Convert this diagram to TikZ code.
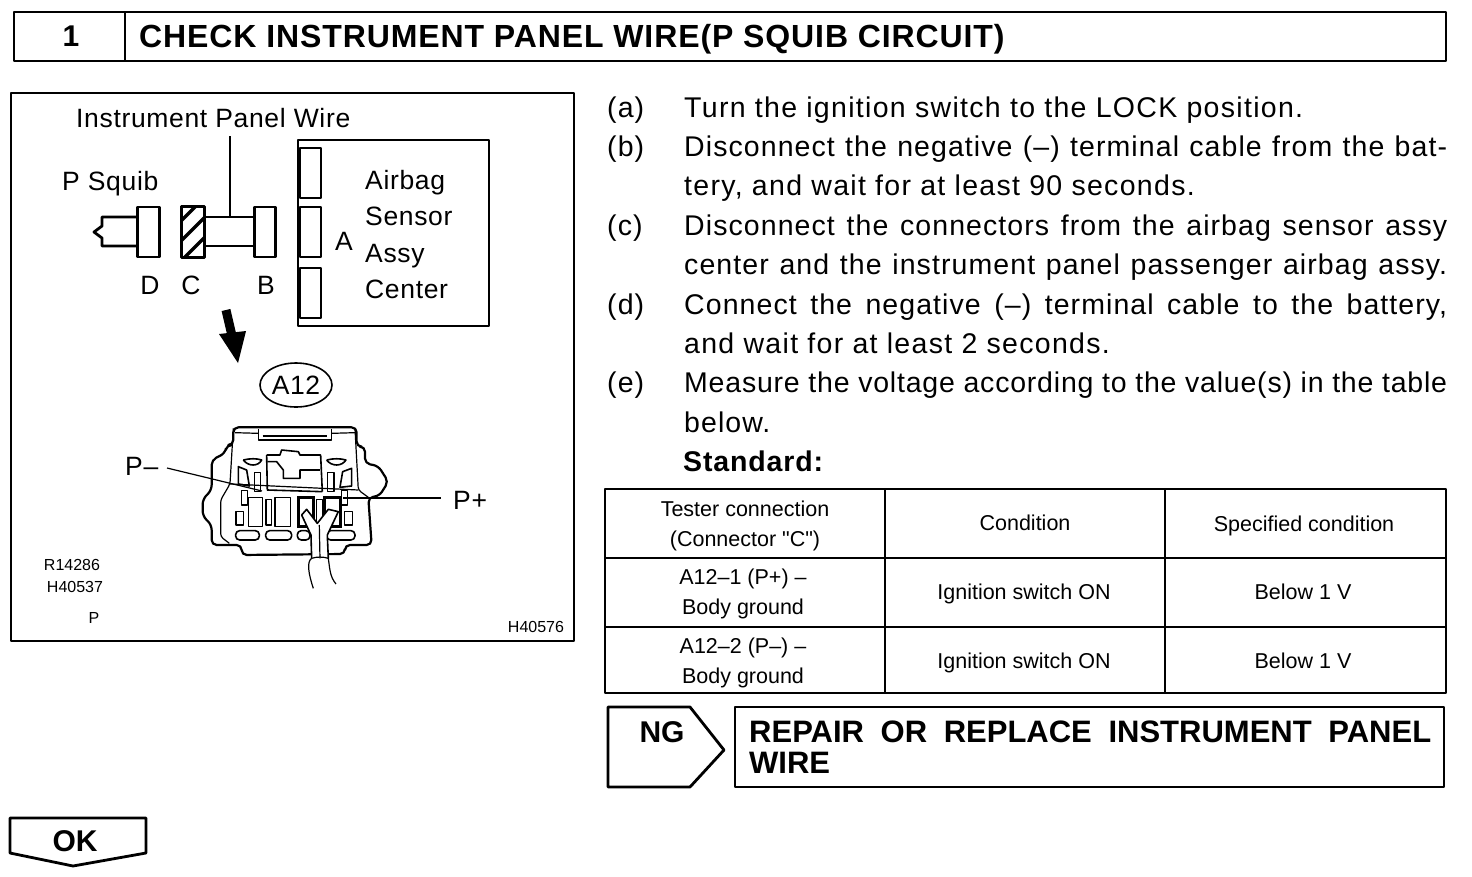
\documentclass[tikz,border=0pt]{standalone}
\usepackage{fontspec}
\setmainfont{Liberation Sans}
\newfontfamily\plainfont{Liberation Sans}
\newcommand{\jline}[2]{\makebox[#1][s]{#2}}
\tikzset{
  body/.style={anchor=base west,inner sep=0pt,font=\fontsize{28.5}{34}\selectfont\addfontfeatures{LetterSpace=4.6}},
  bodyfit/.style={anchor=base west,inner sep=0pt,font=\fontsize{28.5}{34}\selectfont\addfontfeatures{LetterSpace=#1}},
  head/.style={anchor=base west,inner sep=0pt,font=\bfseries\fontsize{31}{36}\selectfont},
  lab/.style={inner sep=0pt,font=\fontsize{26.5}{32}\selectfont\addfontfeatures{LetterSpace=2.5}},
  cell/.style={inner sep=0pt,align=center,font=\fontsize{21.5}{30}\selectfont},
  tiny/.style={inner sep=0pt,font=\fontsize{16}{18}\selectfont},
  heavy/.style={line width=2.8pt,line join=round},
  med/.style={line width=2.2pt,line join=round},
  thinpart/.style={line width=1.6pt,line join=round},
  fine/.style={line width=1.2pt,line join=round}
}
\begin{document}
\begin{tikzpicture}[x=1pt,y=-1pt]
\useasboundingbox (0,0) rectangle (1472,876);

% title bar
\draw[heavy] (14,12) rectangle (1446,61);
\draw[heavy] (125,12) -- (125,61);
\node[inner sep=0pt,font=\bfseries\fontsize{30}{36}\selectfont] (stepno) at (71,36) {1};
\node[head,font=\bfseries\fontsize{32}{36}\selectfont\addfontfeatures{LetterSpace=2.8}] (title) at (139,47) {CHECK INSTRUMENT PANEL WIRE(P SQUIB CIRCUIT)};

% left panel
\draw[heavy] (11,93) rectangle (574,641);
\node[lab,anchor=base west] (ipw) at (76,127) {Instrument Panel Wire};
\node[lab,anchor=base west] (squib) at (62,190) {P Squib};

\draw[heavy] (489,140) -- (298,140) -- (298,326) -- (489,326) -- cycle;
\draw[heavy] (300,148) rectangle (321,198);
\draw[heavy] (300,207) rectangle (321,257);
\draw[heavy] (300,268) rectangle (321,318);
\node[lab,anchor=base west] (airbag) at (365,189) {Airbag};
\node[lab,anchor=base west] (sensor) at (365,225) {Sensor};
\node[lab,anchor=base west] (assy) at (365,262) {Assy};
\node[lab,anchor=base west] (center) at (365,298) {Center};
\node[lab] (lA) at (344,241) {A};
\node[lab] (lD) at (150,285) {D};
\node[lab] (lC) at (191,285) {C};
\node[lab] (lB) at (266,285) {B};

\node[draw,heavy,minimum width=22pt,minimum height=50pt,inner sep=0pt] (D) at (148.5,232) {};
\node[draw,heavy,minimum width=21pt,minimum height=50pt,inner sep=0pt] (B) at (265,232) {};
\node[minimum width=22pt,minimum height=50pt,inner sep=0pt] (C) at (193,232) {};
\begin{scope}
\clip (C.south west) rectangle (C.north east);
\foreach \i in {0,20,...,100} {
  \draw[line width=3.5pt] (120+\i,262) -- (180+\i,202);
}
\end{scope}
\draw[heavy] (C.south west) rectangle (C.north east);
\draw[heavy] (C.east |- 0,217) -- (B.west |- 0,217);
\draw[heavy] (C.east |- 0,246) -- (B.west |- 0,246);
\draw[heavy] (D.west |- 0,217) -- (102,217) -- (102,226) -- (94,232) -- (102,238) -- (102,246) -- (D.west |- 0,246);
\coordinate (wiretop) at (230,217);
\draw[fine] (230,136) -- (wiretop);

% big arrow
\draw[line width=9pt] (226,310) -- (233,340);
\fill (219,334) -- (246,331) -- (238,363) -- cycle;

\draw[thinpart] (296,385) ellipse (36 and 22);
\node[lab] (a12) at (296,385) {A12};

% connector
\begin{scope}[shift={(110,410)},x=0.3333pt,y=-0.3333pt]
\draw[med,rounded corners=5pt] (370,105) -- (370,52) -- (740,52) -- (740,110) -- (765,110) -- (765,160) -- (805,168) -- (835,215) -- (808,258) -- (775,262) -- (785,405) -- (705,405) -- (705,432) -- (395,435) -- (395,405) -- (305,405) -- (305,345) -- (278,318) -- (278,268) -- (305,240) -- (305,150) -- (345,130) -- (350,105) -- cycle;
\draw[fine,rounded corners=3pt] (358,400) -- (332,380) -- (332,270) -- (360,222) -- (370,55);
\draw[fine,rounded corners=3pt] (735,55) -- (745,240) -- (775,262);
\draw[fine] (360,222) -- (745,240);
\draw[thinpart] (445,58) -- (445,90) -- (665,90) -- (665,58);
\draw[fine] (375,68) -- (445,70) (665,70) -- (735,68);
\draw[fine] (458,78) -- (650,78);
\draw[thinpart] (470,135) -- (510,135) -- (515,120) -- (565,125) -- (570,135) -- (632,135) -- (637,245);
\draw[thinpart] (470,135) -- (472,240) -- (637,245);
\draw[thinpart] (472,155) -- (500,155) -- (520,180) -- (520,205) -- (570,205) -- (570,180) -- (600,180) -- (630,180);
\draw[thinpart] (400,150) .. controls (420,145) and (440,145) .. (455,150) .. controls (445,170) and (415,170) .. (400,150);
\draw[thinpart] (650,150) .. controls (670,145) and (690,145) .. (708,150) .. controls (695,170) and (665,170) .. (650,150);
\draw[thinpart] (385,170) -- (410,180) -- (418,228) -- (385,222) -- cycle;
\draw[thinpart] (725,175) -- (698,185) -- (690,232) -- (725,228) -- cycle;
\draw[thinpart] (433,188) rectangle (452,245);
\draw[thinpart] (652,188) rectangle (672,245);
\draw[thinpart] (395,242) rectangle (412,285);
\draw[thinpart] (695,242) rectangle (712,285);
\draw[thinpart] (415,262) rectangle (458,350);
\draw[thinpart] (468,268) rectangle (485,345);
\draw[thinpart] (495,262) rectangle (542,350);
\draw[line width=3pt] (565,262) rectangle (612,350);
\draw[thinpart] (620,268) rectangle (637,345);
\draw[line width=3pt] (645,262) rectangle (692,350);
\draw[thinpart] (378,305) rectangle (400,345);
\draw[thinpart] (704,305) rectangle (728,345);
\draw[thinpart,rounded corners=4pt] (377,362) rectangle (448,390);
\draw[thinpart,rounded corners=4pt] (467,362) rectangle (545,390);
\draw[thinpart,rounded corners=4pt] (562,362) rectangle (600,390);
\draw[thinpart,rounded corners=4pt] (650,362) rectangle (735,390);
% wires
\fill[white] (575,315) -- (590,298) -- (622,340) -- (655,298) -- (685,305) -- (652,375) -- (655,445) -- (605,445) -- (603,375) -- cycle;
\draw[thinpart] (575,315) -- (590,298) -- (622,340) -- (655,298) -- (685,305) -- (652,375) -- (655,445);
\draw[thinpart] (575,315) -- (603,375) -- (605,445);
\draw[fine] (628,345) -- (630,445);
\draw[fine] (605,445) .. controls (590,455) and (595,490) .. (610,535);
\draw[fine] (605,445) .. controls (620,440) and (640,440) .. (655,445) .. controls (660,480) and (660,500) .. (678,522);
\end{scope}

\node[lab,anchor=base west] (pminus) at (125,475) {P--};
\coordinate (pminusend) at (262,491);
\draw[fine] (167,468) -- (pminusend);
\node[lab,anchor=base west] (pplus) at (453,509) {P+};
\coordinate (pplusend) at (343,498);
\draw[fine] (pplusend) -- (441,498);

\node[tiny] (r1) at (72,565) {R14286};
\node[tiny] (h1) at (75,587) {H40537};
\node[tiny] (p1) at (94,618) {P};
\node[tiny] (h2) at (536,627) {H40576};

% steps
\node[bodyfit=3.8] (sa) at (607,117) {(a)};
\node[body] (ta) at (684,117) {Turn the ignition switch to the LOCK position.};
\node[bodyfit=3.8] (sb) at (607,156) {(b)};
\node[bodyfit=3.8] (tb1) at (684,156) {\jline{763pt}{Disconnect the negative (--) terminal cable from the bat-}};
\node[body] (tb2) at (684,195) {tery, and wait for at least 90 seconds.};
\node[bodyfit=3.8] (sc) at (607,235) {(c)};
\node[bodyfit=3.8] (tc1) at (684,235) {\jline{763pt}{Disconnect the connectors from the airbag sensor assy}};
\node[bodyfit=3.8] (tc2) at (684,274) {\jline{763pt}{center and the instrument panel passenger airbag assy.}};
\node[bodyfit=3.8] (sd) at (607,314) {(d)};
\node[bodyfit=3.8] (td1) at (684,314) {\jline{763pt}{Connect the negative (--) terminal cable to the battery,}};
\node[body] (td2) at (684,353) {and wait for at least 2 seconds.};
\node[bodyfit=3.8] (se) at (607,392) {(e)};
\node[bodyfit=2.8] (te1) at (684,392) {\jline{763pt}{Measure the voltage according to the value(s) in the table}};
\node[bodyfit=3.8] (te2) at (684,432) {below.};
\node[body,font=\bfseries\fontsize{28.5}{34}\selectfont\addfontfeatures{LetterSpace=3}] (std) at (683,471) {Standard:};

% table
\draw[med] (605,489) rectangle (1446,693);
\draw[med] (605,558) -- (1446,558);
\draw[med] (605,627) -- (1446,627);
\draw[med] (885,489) -- (885,693);
\draw[med] (1165,489) -- (1165,693);
\node[cell] (c11) at (745,526) {Tester connection\\(Connector {\plainfont"C"})};
\node[cell] (c12) at (1025,523) {Condition};
\node[cell] (c13) at (1304,526) {Specified condition};
\node[cell] (c21) at (743,594) {A12--1 (P+) --\\Body ground};
\node[cell] (c22) at (1024,594) {Ignition switch ON};
\node[cell] (c23) at (1303,592) {Below 1 V};
\node[cell] (c31) at (743,663) {A12--2 (P--) --\\Body ground};
\node[cell] (c32) at (1024,663) {Ignition switch ON};
\node[cell] (c33) at (1303,661) {Below 1 V};

% result boxes
\draw[heavy] (608,707) -- (690,707) -- (724,750) -- (690,787) -- (608,787) -- cycle;
\node[inner sep=0pt,font=\bfseries\fontsize{30}{36}\selectfont] (ng) at (662,732) {NG};
\draw[heavy] (735,707) rectangle (1444,787);
\node[head] (rep1) at (749,742) {\jline{682pt}{REPAIR OR REPLACE INSTRUMENT PANEL}};
\node[head] (rep2) at (749,773) {WIRE};
\draw[heavy] (10,818) -- (146,818) -- (146,853) -- (73,866) -- (10,853) -- cycle;
\node[inner sep=0pt,font=\bfseries\fontsize{30}{36}\selectfont] (ok) at (75,841) {OK};
\end{tikzpicture}
\end{document}
